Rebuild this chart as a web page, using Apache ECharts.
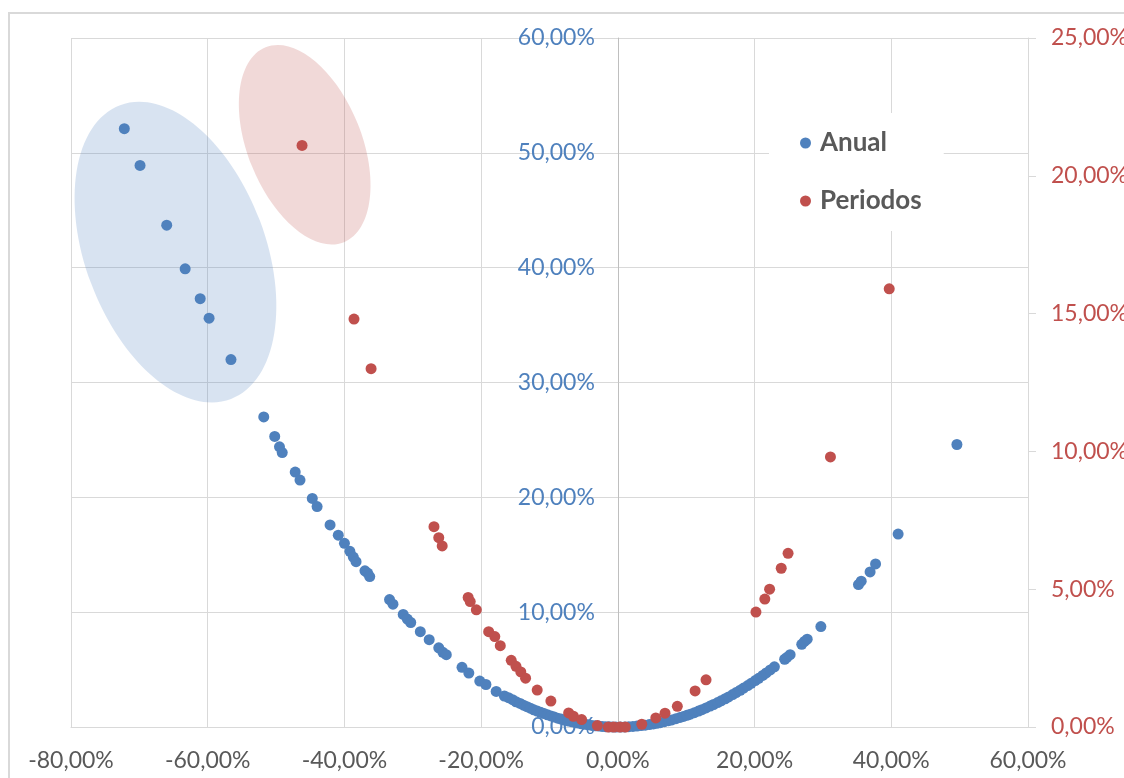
<!DOCTYPE html>
<html>
<head>
<meta charset="utf-8">
<script src="https://cdn.jsdelivr.net/npm/echarts@6/dist/echarts.min.js"></script>
<style>
  html, body { margin: 0; padding: 0; background: #fff; }
  #chart { width: 1124px; height: 778px; }
</style>
</head>
<body>
<div id="chart"></div>
<script>
// Retornos (%) frente a la varianza: serie anual (eje izquierdo) y por periodos (eje derecho)
const seriesNames = ['Anual', 'Periodos'];

// Anual: [retorno %, varianza %]
const anual = [
  [-72.2, 52.1], [-69.9, 48.9], [-66.0, 43.7], [-63.3, 39.9], [-61.1, 37.3], [-59.8, 35.6], [-56.6, 32.0],
  [-51.8, 27.0], [-50.2, 25.3], [-49.5, 24.4], [-49.1, 23.9], [-47.2, 22.2], [-46.5, 21.5], [-44.7, 19.9],
  [-44.0, 19.2], [-42.1, 17.6], [-40.9, 16.7], [-40.0, 16.0], [-39.2, 15.3], [-38.7, 14.8], [-38.3, 14.4],
  [-37.0, 13.6], [-36.6, 13.4], [-36.3, 13.1],
  [-33.4, 11.1], [-32.9, 10.7], [-31.4, 9.8], [-30.8, 9.4], [-30.3, 9.1], [-28.9, 8.3], [-27.6, 7.6],
  [-26.2, 6.9], [-25.6, 6.5], [-25.1, 6.3], [-22.8, 5.2], [-21.8, 4.7], [-20.2, 4.0], [-19.3, 3.7],
  [-17.8, 3.1], [-16.6, 2.7], [-16.0, 2.55], [-15.4, 2.38], [-14.9, 2.2], [-14.3, 2.05], [-13.8, 1.9],
  [-13.3, 1.77], [-12.8, 1.64], [-12.3, 1.5], [-11.8, 1.39], [-11.3, 1.28], [-10.8, 1.17], [-10.3, 1.06],
  [-9.8, 0.96], [-9.3, 0.86], [-8.8, 0.77], [-8.3, 0.69], [-7.8, 0.61], [-7.3, 0.53], [-6.8, 0.46],
  [-6.3, 0.4], [-5.8, 0.34], [-5.3, 0.28], [-4.8, 0.23], [-4.3, 0.19], [-3.8, 0.14], [-3.3, 0.11],
  [-2.8, 0.08], [-2.3, 0.05], [-1.8, 0.03], [-1.3, 0.02], [-0.8, 0.01], [-0.3, 0.0],
  [0.4, 0.0], [1.0, 0.01], [1.6, 0.03], [2.2, 0.05], [2.8, 0.08], [3.4, 0.12], [4.0, 0.16], [4.6, 0.21],
  [5.2, 0.27], [5.7, 0.32], [6.2, 0.38], [6.8, 0.46], [7.4, 0.55], [7.9, 0.62], [8.5, 0.72], [9.1, 0.83],
  [9.6, 0.92], [10.1, 1.02], [10.6, 1.12], [11.2, 1.25], [11.8, 1.39], [12.3, 1.51], [12.9, 1.66],
  [13.5, 1.82], [14.0, 1.96], [14.6, 2.13], [15.1, 2.28], [15.7, 2.46], [16.2, 2.62], [16.8, 2.82],
  [17.3, 3.0], [17.9, 3.2], [18.4, 3.39], [19.0, 3.61], [19.5, 3.8], [20.1, 4.04], [20.6, 4.24],
  [21.2, 4.49], [21.7, 4.71], [22.3, 4.97], [22.9, 5.24], [24.4, 5.9], [24.7, 6.05], [25.2, 6.3],
  [26.9, 7.2], [27.3, 7.45], [27.7, 7.65], [29.7, 8.75], [35.2, 12.4], [35.6, 12.7], [36.9, 13.5],
  [37.7, 14.2], [41.0, 16.8], [49.6, 24.6]
];

// Periodos: [retorno %, varianza %]
const periodos = [
  [-46.2, 21.1], [-38.6, 14.8], [-36.1, 13.0], [-26.9, 7.27], [-26.2, 6.87], [-25.7, 6.57],
  [-21.9, 4.7], [-21.6, 4.55], [-20.7, 4.25], [-18.9, 3.46], [-18.0, 3.28], [-17.2, 2.95],
  [-15.6, 2.42], [-14.9, 2.2], [-14.2, 2.0], [-13.5, 1.77], [-11.8, 1.34], [-9.8, 0.94],
  [-7.2, 0.51], [-6.5, 0.39], [-5.3, 0.27], [-3.0, 0.05], [-1.4, 0.0], [-0.6, 0.0], [0.3, 0.0],
  [1.1, 0.0], [3.5, 0.1], [5.55, 0.33], [6.9, 0.5], [8.7, 0.75], [11.3, 1.31], [12.9, 1.71],
  [20.2, 4.17], [21.5, 4.64], [22.2, 5.0], [23.9, 5.76], [24.9, 6.3], [31.1, 9.8], [39.7, 15.9]
];

// Ejes
const xTicks = { min: -80, max: 60, step: 20 };
const yLeftTicks = { min: 0, max: 60, step: 10 };
const yRightTicks = { min: 0, max: 25, step: 5 };

const BLUE = '#4f81bd';
const RED = '#c0504d';
const GREY_TEXT = '#595959';
const GRID = '#d9d9d9';
const FONT = 'Lato';

const GRID_BOX = { left: 71, top: 38, width: 957, height: 689 };
// El eje vertical izquierdo cruza en x = 0: desplazamiento hacia dentro del área de trazado
const leftAxisShift = GRID_BOX.width * (0 - xTicks.min) / (xTicks.max - xTicks.min);

const pct = v => v.toFixed(2).replace('.', ',') + '%';

const chart = echarts.init(document.getElementById('chart'), null, { renderer: 'canvas' });

chart.setOption({
  backgroundColor: '#ffffff',
  animation: false,
  textStyle: { fontFamily: FONT },
  grid: Object.assign({ containLabel: false, outerBoundsMode: 'none' }, GRID_BOX),
  legend: {
    orient: 'vertical',
    left: 769,
    top: 113,
    padding: [17, 22, 17, 31],
    backgroundColor: '#ffffff',
    itemGap: 32,
    itemWidth: 11,
    itemHeight: 11,
    icon: 'circle',
    textStyle: {
      color: GREY_TEXT, fontFamily: FONT, fontSize: 26, fontWeight: 'bold',
      lineHeight: 26, padding: [0, 0, 0, 4]
    },
    data: seriesNames
  },
  xAxis: {
    type: 'value',
    min: xTicks.min, max: xTicks.max, interval: xTicks.step,
    axisLine: { show: true, onZero: false, lineStyle: { color: GRID, width: 1 } },
    axisTick: { show: false },
    axisLabel: { color: GREY_TEXT, fontSize: 23, fontFamily: FONT, margin: 22, formatter: pct },
    splitLine: { show: true, lineStyle: { color: GRID, width: 1 } }
  },
  yAxis: [
    {
      type: 'value',
      min: yLeftTicks.min, max: yLeftTicks.max, interval: yLeftTicks.step,
      position: 'left',
      offset: -leftAxisShift,
      axisLine: { show: true, onZero: false, lineStyle: { color: '#bfbfbf', width: 1 } },
      axisTick: { show: false },
      axisLabel: { color: BLUE, fontSize: 23, fontFamily: FONT, margin: 23, formatter: pct },
      splitLine: { show: true, lineStyle: { color: GRID, width: 1 } }
    },
    {
      type: 'value',
      min: yRightTicks.min, max: yRightTicks.max, interval: yRightTicks.step,
      position: 'right',
      axisLine: { show: true, onZero: false, lineStyle: { color: GRID, width: 1 } },
      axisTick: { show: true, inside: false, length: 8, lineStyle: { color: GRID } },
      axisLabel: { color: RED, fontSize: 23, fontFamily: FONT, margin: 23, formatter: pct },
      splitLine: { show: false }
    }
  ],
  series: [
    {
      name: seriesNames[0], type: 'scatter', yAxisIndex: 0,
      symbol: 'circle', symbolSize: 11, z: 3,
      itemStyle: { color: BLUE, opacity: 1 },
      data: anual
    },
    {
      name: seriesNames[1], type: 'scatter', yAxisIndex: 1,
      symbol: 'circle', symbolSize: 11, z: 4,
      itemStyle: { color: RED, opacity: 1 },
      data: periodos
    }
  ]
});

// Elipses de resalte: centro en coordenadas del eje izquierdo, semiejes en px, giro en grados
const highlights = [
  { center: [-64.7, 41.35], rx: 90, ry: 157, angle: 20.7, fill: 'rgba(79,129,189,0.22)' },
  { center: [-45.8, 50.7], rx: 57, ry: 105, angle: 21.9, fill: 'rgba(192,80,77,0.22)' }
];

const graphics = highlights.map(h => {
  const p = chart.convertToPixel({ xAxisIndex: 0, yAxisIndex: 0 }, h.center);
  return {
    type: 'ellipse',
    x: p[0], y: p[1],
    rotation: h.angle * Math.PI / 180,
    shape: { cx: 0, cy: 0, rx: h.rx, ry: h.ry },
    style: { fill: h.fill, stroke: null },
    silent: true,
    z: 1
  };
});

// Marco exterior del gráfico
graphics.push({
  type: 'rect',
  shape: { x: 9, y: 13, width: 1200, height: 900 },
  style: { fill: null, stroke: GRID, lineWidth: 2 },
  silent: true,
  z: 0
});

chart.setOption({ graphic: graphics });
</script>
</body>
</html>
